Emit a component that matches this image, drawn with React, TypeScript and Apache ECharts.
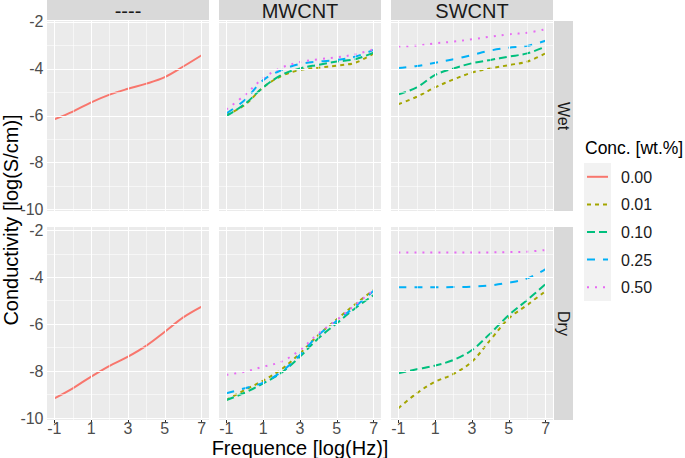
import React, { useEffect, useRef } from 'react';
import * as echarts from 'echarts';

// ---------------- data ----------------
const freq = [-1, 0, 1, 2, 3, 4, 5, 6, 7];
const concLevels = ['0.00', '0.01', '0.10', '0.25', '0.50'];
const fillers = ['----', 'MWCNT', 'SWCNT'];
const conditions = ['Wet', 'Dry'];
const xTicks = [-1, 1, 3, 5, 7];
const xMinor = [0, 2, 4, 6];
const yTicks = [-2, -4, -6, -8, -10];
const yMinor = [-3, -5, -7, -9];

const noneWet000 = [-6.15, -5.82, -5.43, -5.1, -4.85, -4.63, -4.35, -3.9, -3.42];
const noneDry000 = [-9.16, -8.73, -8.23, -7.77, -7.38, -6.91, -6.32, -5.71, -5.25];

const mwWet001 = [-5.97, -5.54, -4.79, -4.3, -4.05, -3.95, -3.86, -3.74, -3.34];
const mwWet010 = [-6.01, -5.5, -4.79, -4.26, -3.98, -3.83, -3.69, -3.59, -3.31];
const mwWet025 = [-5.9, -5.33, -4.48, -4.05, -3.79, -3.69, -3.62, -3.48, -3.19];
const mwWet050 = [-5.73, -5.12, -4.4, -3.95, -3.71, -3.59, -3.51, -3.38, -3.17];

const swWet001 = [-5.51, -5.19, -4.79, -4.45, -4.16, -3.98, -3.84, -3.69, -3.34];
const swWet010 = [-5.09, -4.79, -4.26, -3.98, -3.76, -3.62, -3.48, -3.34, -3.05];
const swWet025 = [-3.96, -3.88, -3.74, -3.59, -3.41, -3.22, -3.1, -3.02, -2.8];
const swWet050 = [-3.05, -3.01, -2.91, -2.84, -2.74, -2.63, -2.53, -2.46, -2.31];

const mwDry001 = [-9.23, -8.8, -8.4, -7.92, -7.24, -6.46, -5.79, -5.15, -4.54];
const mwDry010 = [-9.23, -8.92, -8.52, -8.06, -7.38, -6.6, -5.96, -5.32, -4.76];
const mwDry025 = [-8.94, -8.73, -8.49, -8.02, -7.31, -6.46, -5.85, -5.25, -4.57];
const mwDry050 = [-8.16, -8.02, -7.81, -7.59, -7.1, -6.39, -5.82, -5.18, -4.54];

const swDry001 = [-9.58, -8.94, -8.45, -8.12, -7.59, -6.67, -5.75, -5.18, -4.59];
const swDry010 = [-8.09, -7.92, -7.76, -7.52, -7.1, -6.39, -5.61, -4.97, -4.29];
const swDry025 = [-4.43, -4.43, -4.43, -4.42, -4.4, -4.35, -4.23, -4.05, -3.65];
const swDry050 = [-2.95, -2.95, -2.95, -2.95, -2.95, -2.94, -2.93, -2.91, -2.84];

// panel -> list of [concIndex, values]
const panels: { row: number; col: number; lines: [number, number[]][] }[] = [
  { row: 0, col: 0, lines: [[0, noneWet000]] },
  { row: 0, col: 1, lines: [[1, mwWet001], [2, mwWet010], [3, mwWet025], [4, mwWet050]] },
  { row: 0, col: 2, lines: [[1, swWet001], [2, swWet010], [3, swWet025], [4, swWet050]] },
  { row: 1, col: 0, lines: [[0, noneDry000]] },
  { row: 1, col: 1, lines: [[1, mwDry001], [2, mwDry010], [3, mwDry025], [4, mwDry050]] },
  { row: 1, col: 2, lines: [[1, swDry001], [2, swDry010], [3, swDry025], [4, swDry050]] },
];

// ---------------- styles / layout ----------------
const FONT = '"Liberation Sans", Arial, Helvetica, sans-serif';
const colors = ['#F8766D', '#A3A500', '#00BF7D', '#00B0F6', '#E76BF3'];
const dashes: (number[] | 'solid')[] = ['solid', [4, 4], [8, 4], [8, 8], [2, 6]];
const colLeft = [47, 219, 391];
const panelW = 162;
const rowTop = [21, 227];
const rowH = [190, 193];
const yRange = [
  [-10.06, -1.96],
  [-10.08, -1.86],
];
const xRange = [-1.4, 7.4];

function buildOption() {
  const grid: any[] = [];
  const xAxis: any[] = [];
  const yAxis: any[] = [];
  const series: any[] = [];

  panels.forEach((p, i) => {
    grid.push({
      left: colLeft[p.col],
      top: rowTop[p.row],
      width: panelW,
      height: rowH[p.row],
      show: true,
      backgroundColor: '#EBEBEB',
      borderWidth: 0,
      containLabel: false,
      outerBoundsMode: 'none',
    });
    xAxis.push({
      gridIndex: i,
      type: 'value',
      min: xRange[0],
      max: xRange[1],
      axisLine: { show: false },
      splitLine: { show: false },
      axisTick: {
        show: p.row === 1,
        length: 3,
        customValues: xTicks,
        lineStyle: { color: '#333333', width: 1 },
      },
      axisLabel: {
        show: p.row === 1,
        customValues: xTicks,
        margin: 0.5,
        fontSize: 16,
        color: '#4D4D4D',
        fontFamily: FONT,
      },
    });
    yAxis.push({
      gridIndex: i,
      type: 'value',
      min: yRange[p.row][0],
      max: yRange[p.row][1],
      axisLine: { show: false },
      splitLine: { show: false },
      axisTick: {
        show: p.col === 0,
        length: 3,
        customValues: yTicks,
        lineStyle: { color: '#333333', width: 1 },
      },
      axisLabel: {
        show: p.col === 0,
        customValues: yTicks,
        margin: 3.5,
        fontSize: 16,
        color: '#4D4D4D',
        fontFamily: FONT,
      },
    });

    const major = { color: '#FFFFFF', width: 1.1, type: 'solid' };
    const minor = { color: '#FFFFFF', width: 0.55, type: 'solid' };
    series.push({
      type: 'line',
      xAxisIndex: i,
      yAxisIndex: i,
      data: [],
      silent: true,
      z: 1,
      markLine: {
        silent: true,
        animation: false,
        symbol: ['none', 'none'],
        label: { show: false },
        emphasis: { disabled: true },
        data: [
          ...xMinor.map((v) => ({ xAxis: v, lineStyle: minor })),
          ...yMinor.map((v) => ({ yAxis: v, lineStyle: minor })),
          ...xTicks.map((v) => ({ xAxis: v, lineStyle: major })),
          ...yTicks.map((v) => ({ yAxis: v, lineStyle: major })),
        ],
      },
    });

    p.lines.forEach(([k, vals]) => {
      series.push({
        type: 'line',
        name: concLevels[k],
        xAxisIndex: i,
        yAxisIndex: i,
        data: freq.map((f, j) => [f, vals[j]]),
        symbol: 'none',
        showSymbol: false,
        smooth: 0.35,
        silent: true,
        z: 3,
        lineStyle: { color: colors[k], width: 2, type: dashes[k] },
      });
    });
  });

  const graphic: any[] = [];
  // top strips
  fillers.forEach((f, c) => {
    graphic.push({
      type: 'rect',
      shape: { x: colLeft[c], y: 0, width: panelW, height: 20 },
      style: { fill: '#D9D9D9' },
      silent: true,
    });
    graphic.push({
      type: 'text',
      x: colLeft[c] + panelW / 2,
      y: 10.5,
      style: {
        text: f,
        fill: '#1A1A1A',
        fontSize: 20,
        fontFamily: FONT,
        align: 'center',
        verticalAlign: 'middle',
      },
      silent: true,
    });
  });
  // right strips
  conditions.forEach((cnd, r) => {
    graphic.push({
      type: 'rect',
      shape: { x: 554, y: rowTop[r], width: 19, height: rowH[r] },
      style: { fill: '#D9D9D9' },
      silent: true,
    });
    graphic.push({
      type: 'text',
      x: 563.5,
      y: rowTop[r] + rowH[r] / 2,
      rotation: -Math.PI / 2,
      style: {
        text: cnd,
        fill: '#1A1A1A',
        fontSize: 16,
        fontFamily: FONT,
        align: 'center',
        verticalAlign: 'middle',
      },
      silent: true,
    });
  });
  // axis titles
  graphic.push({
    type: 'text',
    x: 300,
    y: 447.5,
    style: {
      text: 'Frequence [log(Hz)]',
      fill: '#000000',
      fontSize: 20,
      fontFamily: FONT,
      align: 'center',
      verticalAlign: 'middle',
    },
    silent: true,
  });
  graphic.push({
    type: 'text',
    x: 11,
    y: 220,
    rotation: Math.PI / 2,
    style: {
      text: 'Conductivity [log(S/cm)]',
      fill: '#000000',
      fontSize: 20,
      fontFamily: FONT,
      align: 'center',
      verticalAlign: 'middle',
    },
    silent: true,
  });
  // legend
  graphic.push({
    type: 'text',
    x: 585,
    y: 148,
    style: {
      text: 'Conc. [wt.%]',
      fill: '#000000',
      fontSize: 17.5,
      fontFamily: FONT,
      align: 'left',
      verticalAlign: 'middle',
    },
    silent: true,
  });
  const keyTop = 163;
  const keyH = 27.6;
  graphic.push({
    type: 'rect',
    shape: { x: 584, y: keyTop, width: 27, height: keyH * concLevels.length },
    style: { fill: '#F2F2F2' },
    silent: true,
  });
  concLevels.forEach((lab, k) => {
    const cy = keyTop + keyH * (k + 0.5);
    graphic.push({
      type: 'line',
      shape: { x1: 587, y1: cy, x2: 608, y2: cy },
      style: {
        stroke: colors[k],
        lineWidth: 2,
        lineDash: dashes[k] === 'solid' ? null : (dashes[k] as number[]),
      },
      silent: true,
    });
    graphic.push({
      type: 'text',
      x: 621,
      y: cy + 0.5,
      style: {
        text: lab,
        fill: '#1A1A1A',
        fontSize: 16,
        fontFamily: FONT,
        align: 'left',
        verticalAlign: 'middle',
      },
      silent: true,
    });
  });

  return {
    animation: false,
    backgroundColor: '#FFFFFF',
    grid,
    xAxis,
    yAxis,
    series,
    graphic,
  };
}

export default function App() {
  const ref = useRef<HTMLDivElement>(null);
  useEffect(() => {
    if (!ref.current) return;
    const chart = echarts.init(ref.current, null, { renderer: 'svg' });
    chart.setOption(buildOption() as any);
    return () => chart.dispose();
  }, []);
  return (
    <div
      ref={ref}
      style={{ position: 'fixed', left: 0, top: 0, width: 685, height: 458, background: '#fff' }}
    />
  );
}
